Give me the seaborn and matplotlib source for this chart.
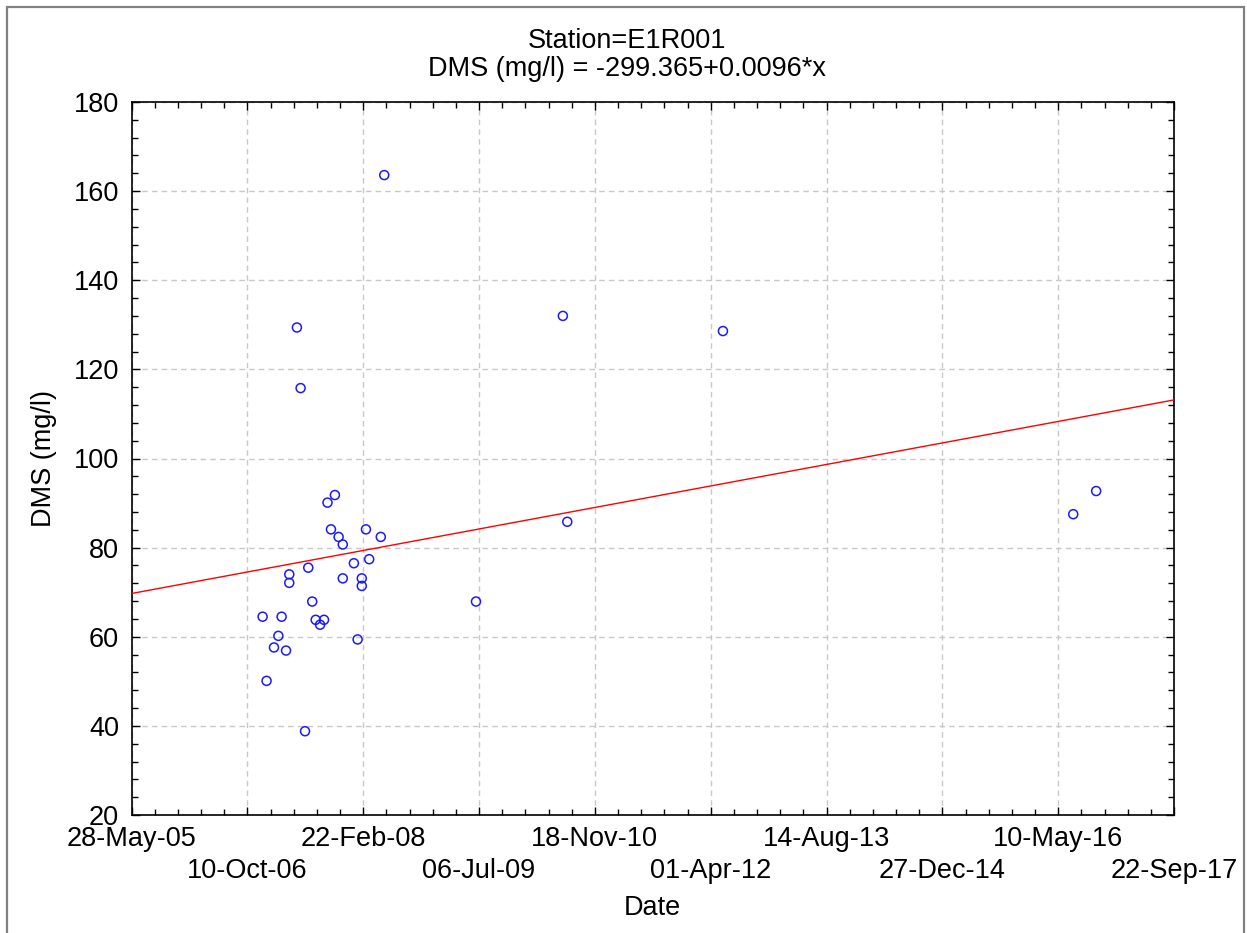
import matplotlib
matplotlib.use("Agg")
import matplotlib.pyplot as plt
import matplotlib.patches as mpatches
from matplotlib.ticker import MultipleLocator, FixedLocator
import numpy as np
import pandas as pd
import seaborn as sns

# Dates as spreadsheet serial day numbers (1 = 01-Jan-1900)
date_serial = [39066, 39083, 39115, 39134, 39148, 39167, 39181, 39181, 39214, 39230,
               39249, 39263, 39280, 39295, 39314, 39331, 39346, 39361, 39378, 39394,
               39412, 39412, 39460, 39476, 39494, 39494, 39512, 39526, 39576, 39591,
               39987, 40362, 40381, 41053, 42565, 42664]
dms = [64.5, 50.1, 57.6, 60.2, 64.5, 56.9, 74.0, 72.1, 129.4, 115.8,
       38.8, 75.5, 67.9, 63.8, 62.7, 63.8, 90.1, 84.1, 91.8, 82.4,
       80.7, 73.1, 76.5, 59.4, 73.1, 71.4, 84.1, 77.4, 82.4, 163.6,
       67.9, 132.0, 85.8, 128.6, 87.5, 92.7]

xtick_values = [38500, 39000, 39500, 40000, 40500, 41000, 41500, 42000, 42500, 43000]
xtick_labels = ["28-May-05", "10-Oct-06", "22-Feb-08", "06-Jul-09", "18-Nov-10",
                "01-Apr-12", "14-Aug-13", "27-Dec-14", "10-May-16", "22-Sep-17"]
ytick_values = [20, 40, 60, 80, 100, 120, 140, 160, 180]

title_line1 = "Station=E1R001"
title_line2 = "DMS (mg/l) = -299.365+0.0096*x"

df = pd.DataFrame({"Date": date_serial, "DMS": dms})

sns.set_style("white")
plt.rcParams["font.family"] = ["Liberation Sans", "DejaVu Sans"]
plt.rcParams["text.color"] = "black"
plt.rcParams["axes.labelcolor"] = "black"
plt.rcParams["xtick.color"] = "black"
plt.rcParams["ytick.color"] = "black"

FS = 19.5

fig = plt.figure(figsize=(12.47, 9.33), dpi=100)
ax = fig.add_axes([131.5 / 1247, 1 - 815 / 933, (1174 - 131.5) / 1247, (815 - 102) / 933])

# regression line (OLS fit of the data)
slope, intercept = np.polyfit(df["Date"], df["DMS"], 1)
xl = np.array([xtick_values[0], xtick_values[-1]], dtype=float)
line_df = pd.DataFrame({"Date": xl, "DMS": intercept + slope * xl})
sns.lineplot(data=line_df, x="Date", y="DMS", ax=ax, color="#ff0000", linewidth=1.0, zorder=3)

sns.scatterplot(data=df, x="Date", y="DMS", ax=ax, marker="o", s=42,
                facecolors="none", edgecolor="#1a1aff", linewidth=1.1, zorder=4)

ax.set_xlim(xtick_values[0], xtick_values[-1])
ax.set_ylim(ytick_values[0], ytick_values[-1])

ax.xaxis.set_major_locator(FixedLocator(xtick_values))
ax.xaxis.set_minor_locator(MultipleLocator(100))
ax.yaxis.set_major_locator(FixedLocator(ytick_values))
ax.yaxis.set_minor_locator(MultipleLocator(4))

stag = [lab if i % 2 == 0 else "\n" + lab for i, lab in enumerate(xtick_labels)]
ax.set_xticklabels(stag, fontsize=FS, linespacing=1.3)
ax.set_yticklabels([str(v) for v in ytick_values], fontsize=FS)

ax.tick_params(which="both", direction="in", top=True, right=True, bottom=True, left=True,
               color="black", width=1.0)
ax.tick_params(which="major", length=6)
ax.tick_params(which="minor", length=4)
ax.tick_params(axis="x", which="major", pad=8)
ax.tick_params(axis="y", which="major", pad=9)

ax.grid(True, which="major", linestyle=(0, (4, 3)), color="#c8c8c8", linewidth=1.0)
ax.set_axisbelow(True)
for s in ax.spines.values():
    s.set_color("black")
    s.set_linewidth(1.2)

ax.set_xlabel("Date", fontsize=FS, labelpad=8)
ax.set_ylabel("DMS (mg/l)", fontsize=FS, labelpad=12)

fig.text(0.503, 1 - 41 / 933, title_line1, ha="center", va="center", fontsize=FS)
fig.text(0.503, 1 - 69 / 933, title_line2, ha="center", va="center", fontsize=FS)

border = mpatches.Rectangle((7 / 1247, -0.05), (1244 - 7) / 1247, 1 - 7 / 933 + 0.05,
                            transform=fig.transFigure, fill=False, edgecolor="#808080",
                            linewidth=1.6, zorder=0)
fig.patches.append(border)

fig.savefig("out.png", dpi=100)
